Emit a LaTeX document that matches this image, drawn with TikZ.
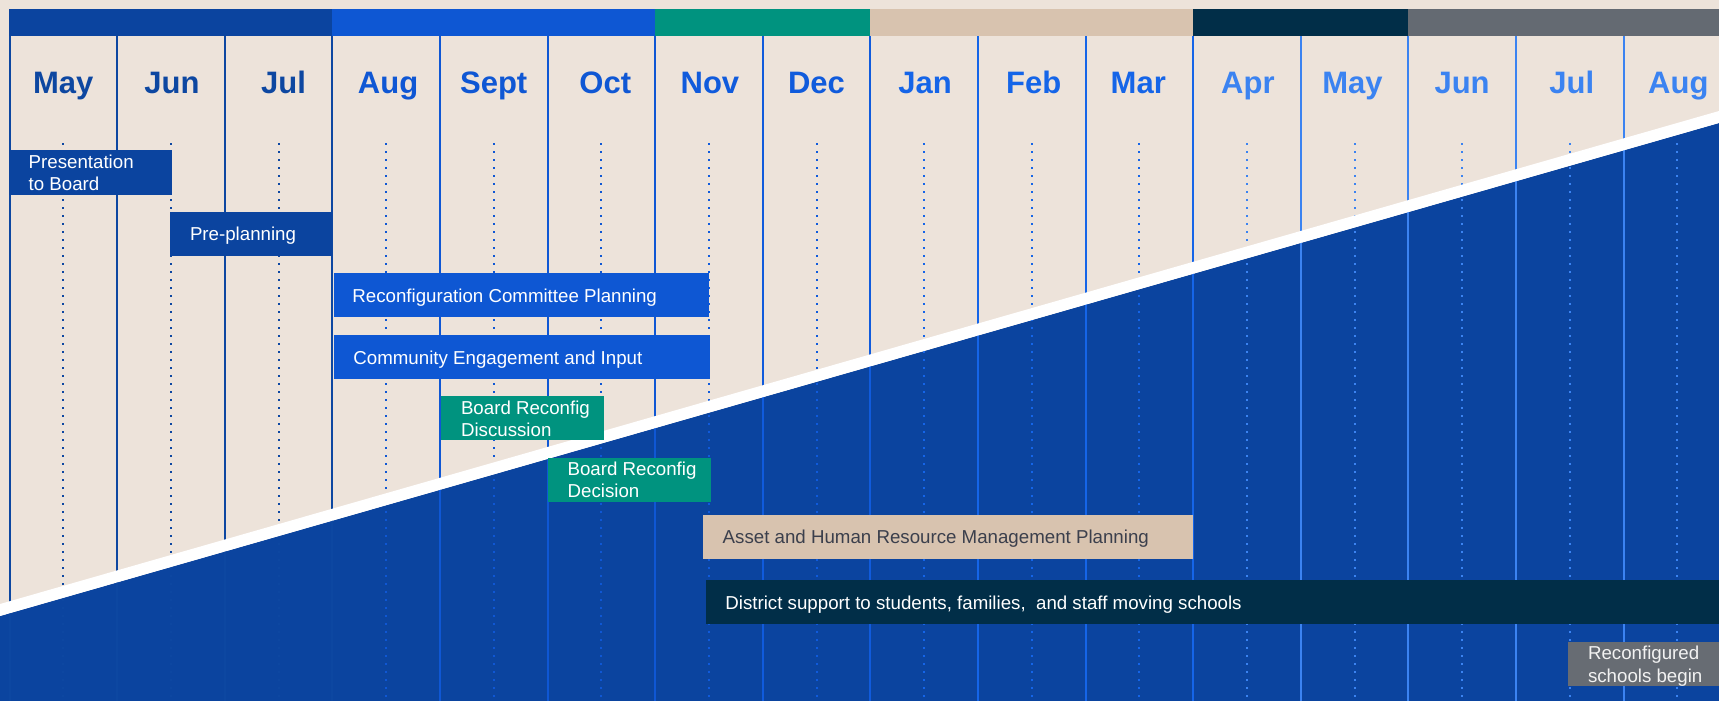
\documentclass[tikz,border=0pt]{standalone}
\usepackage{fontspec}
\setmainfont{Liberation Sans}
\definecolor{bg}{HTML}{EDE3DA}
\definecolor{dblue}{HTML}{0B449F}
\definecolor{mblue}{HTML}{0E57D3}
\definecolor{teal1}{HTML}{00937F}
\definecolor{tan1}{HTML}{D8C3AF}
\definecolor{navy1}{HTML}{012E48}
\definecolor{grey1}{HTML}{646A72}
\definecolor{grey2}{HTML}{676C73}
\definecolor{cA}{HTML}{0D47A1}
\definecolor{cB}{HTML}{0F57D4}
\definecolor{cC}{HTML}{105BDC}
\definecolor{cD}{HTML}{1565E8}
\definecolor{cE}{HTML}{3B83F1}
\definecolor{darktxt}{HTML}{3B3F4C}
\newcommand{\twoln}[3][22pt]{\vtop{\baselineskip=#1\hbox{#2}\hbox{#3}}}
\begin{document}
\begin{tikzpicture}[x=1pt,y=-1pt,
  bar/.style={rectangle, inner sep=0pt, outer sep=0pt, anchor=north west},
  txt/.style={inner sep=0pt, outer sep=0pt, anchor=base west, font=\fontsize{18.7}{22}\selectfont, text=white},
  month/.style={inner sep=0pt, anchor=base, font=\fontsize{31}{31}\selectfont\bfseries},
  colline/.style={line width=2pt},
  dotline/.style={line width=2pt, dash pattern=on 2pt off 6pt}]
\useasboundingbox (0,0) rectangle (1719,701);
% background and lower diagonal area
\fill[bg] (0,0) rectangle (1719,701);
\fill[dblue] (0,616) -- (1719,123) -- (1719,701) -- (0,701) -- cycle;
% column lines
\foreach \k/\c in {0/cA,1/cA,2/cA,3/cA,4/cB,5/cB,6/cB,7/cC,8/cC,9/cD,10/cD,11/cD,12/cE,13/cE,14/cE,15/cE}{
  \draw[colline, \c] (9.5+107.6*\k, 36) -- (9.5+107.6*\k, 701);
}
% dotted centre lines
\foreach \k/\c in {0/cA,1/cA,2/cA,3/cB,4/cB,5/cB,6/cC,7/cC,8/cD,9/cD,10/cD,11/cE,12/cE,13/cE,14/cE,15/cE}{
  \draw[dotline, \c] (63.3+107.6*\k, 143) -- (63.3+107.6*\k, 701);
}
% white separating band
\fill[white] (0,604) -- (1719,111) -- (1719,123) -- (0,616) -- cycle;
% top colour bar
\fill[dblue] (9,9) rectangle (332.3,36);
\fill[mblue] (332.3,9) rectangle (655.1,36);
\fill[teal1] (655.1,9) rectangle (870.3,36);
\fill[tan1] (870.3,9) rectangle (1193.1,36);
\fill[navy1] (1193.1,9) rectangle (1408.3,36);
\fill[grey1] (1408.3,9) rectangle (1719,36);
% month labels
\foreach \k/\m/\c/\d in {0/May/cA/0,1/Jun/cA/1,2/Jul/cA/5,3/Aug/cB/2,4/Sept/cB/0,5/Oct/cB/4,6/Nov/cC/1,7/Dec/cC/0,8/Jan/cD/1,9/Feb/cD/2,10/Mar/cD/-1,11/Apr/cE/1,12/May/cE/-2,13/Jun/cE/0,14/Jul/cE/2,15/Aug/cE/1}{
  \node[month, text=\c] (m\k) at (63.3+107.6*\k+\d, 93) {\m};
}
% task bars
\node[bar, fill=dblue, minimum width=162.5pt, minimum height=44.5pt] (b1) at (9,150) {};
\node[txt] (t1) at (28.7,168.3) {\twoln{Presentation}{to Board}};
\node[bar, fill=dblue, minimum width=162.5pt, minimum height=44pt] (b2) at (169.5,212) {};
\node[txt] (t2) at (190,240.7) {Pre-planning};
\node[bar, fill=mblue, minimum width=375.2pt, minimum height=43.5pt] (b3) at (333.5,273.3) {};
\node[txt] (t3) at (352.4,302.3) {Reconfiguration Committee Planning};
\node[bar, fill=mblue, minimum width=376pt, minimum height=43.7pt] (b4) at (333.5,335) {};
\node[txt] (t4) at (353.4,364) {Community Engagement and Input};
\node[bar, fill=teal1, minimum width=163pt, minimum height=44pt] (b5) at (440.6,396) {};
\node[txt] (t5) at (461,414.3) {\twoln{Board Reconfig}{Discussion}};
\node[bar, fill=teal1, minimum width=162.8pt, minimum height=43.7pt] (b6) at (548.2,458) {};
\node[txt] (t6) at (567.6,475.7) {\twoln{Board Reconfig}{Decision}};
\node[bar, fill=tan1, minimum width=489.8pt, minimum height=43.7pt] (b7) at (703.2,515) {};
\node[txt, text=darktxt] (t7) at (722.7,543.3) {Asset and Human Resource Management Planning};
\node[bar, fill=navy1, minimum width=1013.1pt, minimum height=43.7pt] (b8) at (705.9,580) {};
\node[txt] (t8) at (725.4,609.3) {District support to students, families,\ \ and staff moving schools};
\node[bar, fill=grey2, minimum width=151pt, minimum height=43.4pt] (b9) at (1568,642.3) {};
\node[txt, text=white!95!black] (t9) at (1588,659.3) {\twoln[23pt]{Reconfigured}{schools begin}};
\end{tikzpicture}
\end{document}
